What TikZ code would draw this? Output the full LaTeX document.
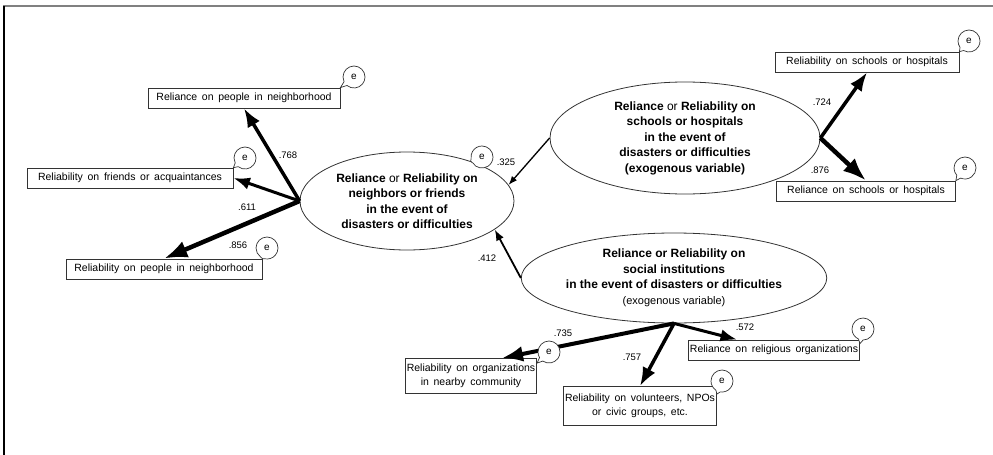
\documentclass[tikz,border=0pt]{standalone}
\usepackage{fontspec}
\setmainfont{Liberation Sans}
\newfontfamily\boxfont[WordSpace=1.6]{Liberation Sans}
\usetikzlibrary{shapes.geometric, shapes.callouts, arrows.meta, positioning}

\tikzset{
  obs/.style={draw=black!80, rectangle, line width=0.8pt, font=\boxfont\fontsize{10.5}{14}\selectfont, align=center, inner xsep=1.5pt, inner ysep=2pt, minimum height=20pt},
  lat/.style={draw=black!80, ellipse, line width=0.8pt, font=\fontsize{12}{15.5}\selectfont\bfseries, align=center, inner sep=0pt},
  err/.style={draw=black!80, ellipse callout, fill=white, line width=0.7pt, minimum width=22pt, minimum height=22pt, inner sep=0pt, font=\fontsize{10}{10}\selectfont, callout pointer arc=25},
  coef/.style={font=\fontsize{9.5}{9.5}\selectfont, inner sep=1pt},
  load/.style={-{Latex}, line width=#1},
}

\begin{document}
\begin{tikzpicture}[x=1pt,y=-1pt]
\useasboundingbox (0,0) rectangle (993,455);
% frame
\draw[gray, line width=2pt] (3,6) -- (993,6);
\draw[line width=1.5pt] (4,6) -- (4,455);

% latent variables
\node[lat, minimum width=214pt, minimum height=98pt] (nbr) at (407,201) {Reliance {\mdseries or} Reliability on\\neighbors or friends\\in the event of\\disasters or difficulties};
\node[lat, minimum width=270pt, minimum height=112pt] (school) at (685,138) {Reliance {\mdseries or} Reliability on\\schools or hospitals\\in the event of\\disasters or difficulties\\(exogenous variable)};
\node[lat, minimum width=304pt, minimum height=90pt] (social) at (674,278) {Reliance or Reliability on\\social institutions\\in the event of disasters or difficulties\\{\mdseries\fontsize{11}{13}\selectfont(exogenous variable)}};

% observed variables
\node[obs, minimum width=192pt] (relpeople) at (244,98) {Reliance on people in neighborhood};
\node[obs, minimum width=206pt] (friends) at (130,178) {Reliability on friends or acquaintances};
\node[obs, minimum width=196pt] (people) at (164,269) {Reliability on people in neighborhood};
\node[obs, minimum width=184pt] (schreli) at (867,62) {Reliability on schools or hospitals};
\node[obs, minimum width=179pt] (schrel) at (866,191) {Reliance on schools or hospitals};
\node[obs, minimum width=129pt, minimum height=35pt] (orgs) at (471,376) {Reliability on organizations\\in nearby community};
\node[obs, minimum width=153pt, minimum height=39pt] (vol) at (640,406) {Reliability on volunteers, NPOs\\or civic groups, etc.};
\node[obs, minimum width=162pt] (relig) at (774,350) {Reliance on religious organizations};

% paths
\draw[load=3.5pt] (nbr.west) -- (relpeople.south);
\draw[load=3pt] (nbr.west) -- (friends.east);
\draw[load=4.5pt] (nbr.west) -- (people.north);
\draw[load=1.3pt] (school.west) -- (nbr.9);
\draw[load=1.8pt] (social.west) -- (nbr.-18);
\draw[load=3.5pt] (school.east) -- (schreli.south);
\draw[load=4.5pt] (school.east) -- (schrel.north);
\draw[load=4pt] (social.south) -- ([xshift=31pt]orgs.north);
\draw[load=3.5pt] (social.south) -- (vol.north);
\draw[load=3pt] (social.south) -- ([xshift=-37pt]relig.north);

% errors
\node[err, callout absolute pointer={(relpeople.north east)}] (e1) at (354,77) {e};
\node[err, callout absolute pointer={(friends.north east)}] (e2) at (245,158) {e};
\node[err, callout absolute pointer={(people.north east)}] (e3) at (267,248) {e};
\node[err, callout absolute pointer={(nbr.32)}] (e4) at (482,157) {e};
\node[err, callout absolute pointer={(schreli.north east)}] (e5) at (969,41) {e};
\node[err, callout absolute pointer={(schrel.north east)}] (e6) at (965,168) {e};
\node[err, callout absolute pointer={([yshift=-5pt]orgs.north east)}] (e7) at (549,352) {e};
\node[err, callout absolute pointer={([yshift=-8pt]vol.north east)}] (e8) at (722,381) {e};
\node[err, callout absolute pointer={([yshift=-4pt]relig.north east)}] (e9) at (863,329) {e};

% coefficients
\node[coef] (l768) at (288,155) {.768};
\node[coef] (l611) at (247,207) {.611};
\node[coef] (l856) at (238,245) {.856};
\node[coef] (l325) at (506,162) {.325};
\node[coef] (l724) at (822,102) {.724};
\node[coef] (l876) at (820,170) {.876};
\node[coef] (l412) at (487,258) {.412};
\node[coef] (l735) at (563,333) {.735};
\node[coef] (l757) at (632,357) {.757};
\node[coef] (l572) at (745,327) {.572};
\end{tikzpicture}
\end{document}
